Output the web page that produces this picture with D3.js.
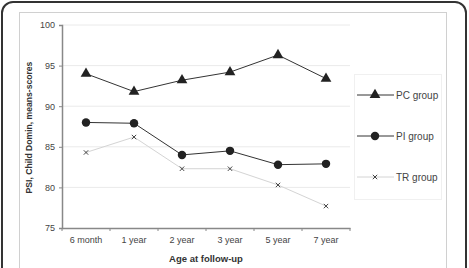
<!DOCTYPE html>
<html><head><meta charset="utf-8">
<script src="https://d3js.org/d3.v7.min.js"></script>
<style>body{margin:0;background:#fff}svg{display:block}text{font-family:"Liberation Sans",Arial,sans-serif}</style>
</head><body>
<script>
const categories = ["6 month","1 year","2 year","3 year","5 year","7 year"];
const pcGroup = [94.0, 91.8, 93.2, 94.2, 96.3, 93.4];
const piGroup = [88.0, 87.9, 84.0, 84.5, 82.8, 82.9];
const trGroup = [84.3, 86.2, 82.3, 82.3, 80.3, 77.7];
const yTicks = [75, 80, 85, 90, 95, 100];
const seriesNames = ["PC group","PI group","TR group"];

(function(){
const W = 469, H = 268;
const svg = d3.select("body").append("svg").attr("width", W).attr("height", H);

// frames
svg.append("rect").attr("x",2).attr("y",2).attr("width",464).attr("height",290)
  .attr("rx",11).attr("fill","none").attr("stroke","#333").attr("stroke-width",2);
svg.append("rect").attr("x",19.5).attr("y",12.5).attr("width",427).attr("height",280)
  .attr("fill","none").attr("stroke","#d0d0d0").attr("stroke-width",1);

const mLeft = 62, mRight = 350, mTop = 25, mBottom = 228;
const x = d3.scaleBand().domain(categories).range([mLeft, mRight]);
const y = d3.scaleLinear().domain([75, 100]).range([mBottom, mTop]);

// gridlines
svg.append("g").selectAll("line").data(yTicks.filter(d => d > 75)).join("line")
  .attr("x1", mLeft).attr("x2", mRight).attr("y1", d => y(d)).attr("y2", d => y(d))
  .attr("stroke", "#eaeaea").attr("stroke-width", 1);

// y axis
const ya = svg.append("g").attr("transform", `translate(${mLeft},0)`)
  .call(d3.axisLeft(y).tickValues(yTicks).tickSize(3).tickPadding(4));
ya.select(".domain").attr("stroke", "#888").attr("stroke-width", 1.5);
ya.selectAll(".tick line").attr("stroke", "#888");
ya.selectAll(".tick text").attr("font-size", 9).attr("fill", "#444");

// x axis
const xa = svg.append("g").attr("transform", `translate(0,${mBottom})`)
  .call(d3.axisBottom(x).tickSize(0).tickPadding(9));
xa.select(".domain").attr("stroke", "#888").attr("stroke-width", 1.5);
xa.selectAll(".tick text").attr("font-size", 9).attr("fill", "#444");
xa.selectAll("line.bt").data(d3.range(categories.length + 1)).join("line").attr("class","bt")
  .attr("x1", i => mLeft + i * x.step()).attr("x2", i => mLeft + i * x.step())
  .attr("y1", 0).attr("y2", 3).attr("stroke", "#888");

// titles
svg.append("text").attr("x", 206).attr("y", 262).attr("text-anchor", "middle")
  .attr("font-size", 9.5).attr("font-weight", "bold").attr("fill", "#333").text("Age at follow-up");
svg.append("text").attr("transform", "translate(31.5,127.5) rotate(-90)").attr("text-anchor", "middle")
  .attr("font-size", 8.6).attr("font-weight", "bold").attr("fill", "#333").text("PSI, Child Domin, means-scores");

const cx = d => x(d) + x.bandwidth() / 2;
const line = d3.line().x(d => cx(d[0])).y(d => y(d[1]));
const tri = d3.symbol().type(d3.symbolTriangle).size(50);
const circ = d3.symbol().type(d3.symbolCircle).size(56);

function drawMarker(g, type, px, py) {
  if (type === 0) g.append("path").attr("d", tri()).attr("transform", `translate(${px},${py})`).attr("fill", "#222");
  else if (type === 1) g.append("path").attr("d", circ()).attr("transform", `translate(${px},${py})`).attr("fill", "#222");
  else {
    const s = 2.2;
    g.append("path").attr("d", `M${px-s},${py-s}L${px+s},${py+s}M${px-s},${py+s}L${px+s},${py-s}`)
      .attr("stroke", "#444").attr("stroke-width", 1).attr("fill", "none");
  }
}

const series = [pcGroup, piGroup, trGroup];
const lineColors = ["#333", "#333", "#d4d4d4"];
series.forEach((vals, si) => {
  const pts = categories.map((c, i) => [c, vals[i]]);
  const g = svg.append("g");
  g.append("path").attr("d", line(pts)).attr("fill", "none").attr("stroke", lineColors[si]).attr("stroke-width", 1);
  pts.forEach(p => drawMarker(g, si, cx(p[0]), y(p[1])));
});

// legend
const lg = svg.append("g");
lg.append("rect").attr("x", 354.5).attr("y", 74.5).attr("width", 87).attr("height", 125)
  .attr("fill", "none").attr("stroke", "#f0f0f0");
const ly = [95, 136, 177];
seriesNames.forEach((n, i) => {
  lg.append("line").attr("x1", 357).attr("x2", 394).attr("y1", ly[i]).attr("y2", ly[i])
    .attr("stroke", lineColors[i]).attr("stroke-width", 1);
  drawMarker(lg, i, 375, ly[i]);
  lg.append("text").attr("x", 396).attr("y", ly[i] + 3.5).attr("font-size", 10).attr("fill", "#444").text(n);
});
})();
</script>
</body></html>
